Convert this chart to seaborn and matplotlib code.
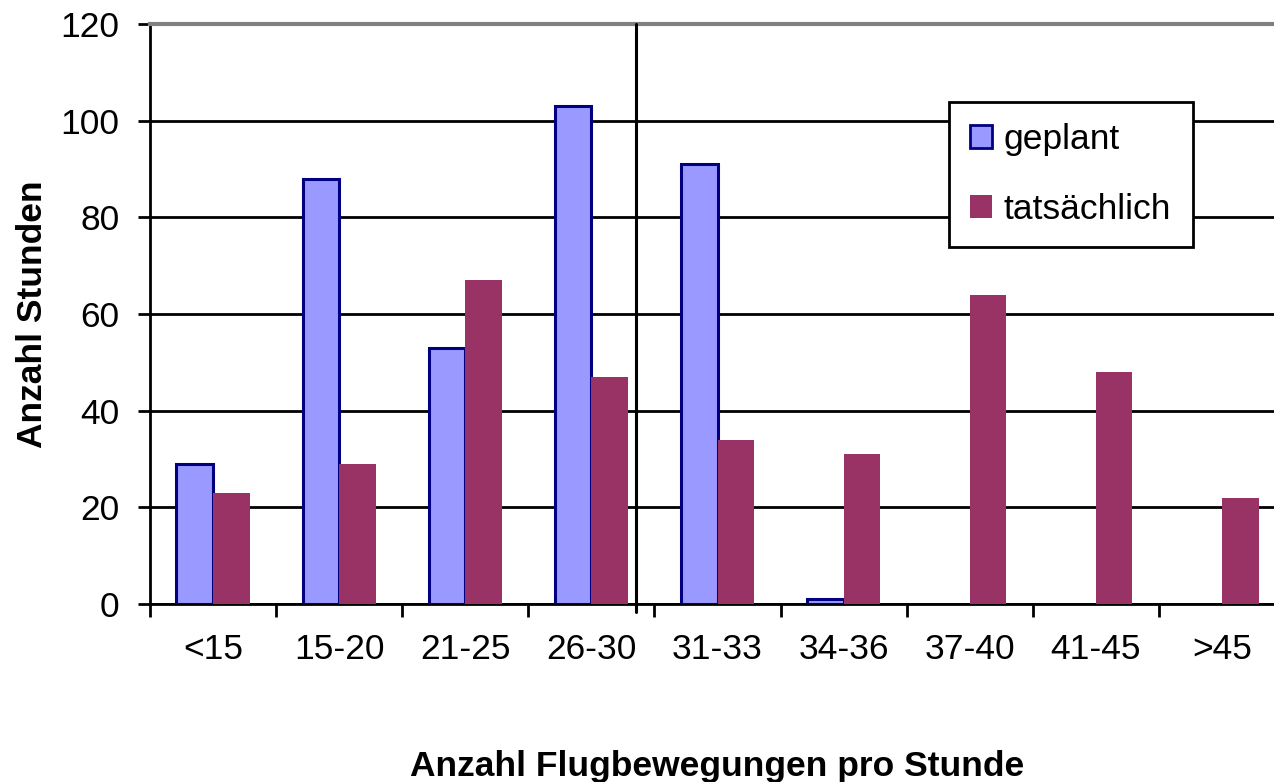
import pandas as pd
import matplotlib.pyplot as plt
import seaborn as sns

# Daten
kategorien = ['<15', '15-20', '21-25', '26-30', '31-33', '34-36', '37-40', '41-45', '>45']
geplant = [29, 88, 53, 103, 91, 1, 0, 0, 0]
tatsaechlich = [23, 29, 67, 47, 34, 31, 64, 48, 22]
serien = ['geplant', 'tatsächlich']

df = pd.DataFrame({
    'Kategorie': kategorien * 2,
    'Stunden': geplant + tatsaechlich,
    'Serie': [serien[0]] * len(kategorien) + [serien[1]] * len(kategorien),
})

sns.set_theme(style='white')
plt.rcParams['font.family'] = ['Liberation Sans', 'DejaVu Sans']
plt.rcParams['text.color'] = 'black'
plt.rcParams['axes.labelcolor'] = 'black'
plt.rcParams['xtick.color'] = 'black'
plt.rcParams['ytick.color'] = 'black'

fs = 25.5

fig = plt.figure(figsize=(12.74, 7.82), dpi=100)
ax = fig.add_axes([0.1177, 0.2276, 0.891, 0.7417])

farben = {'geplant': '#9999FF', 'tatsächlich': '#993366'}
sns.barplot(data=df, x='Kategorie', y='Stunden', hue='Serie', palette=farben,
            width=0.58, gap=0, saturation=1, ax=ax, zorder=3)

# Rahmen der Balken wie in Excel
for cont, name in zip(ax.containers, serien):
    for p in cont:
        if name == 'geplant' and p.get_height() > 0:
            p.set_edgecolor('#000080')
            p.set_linewidth(2.2)
        else:
            p.set_linewidth(0)

ax.set_ylim(0, 120)
ax.set_xlim(-0.5, len(kategorien) - 0.5)
ax.set_yticks(range(0, 121, 20))
ax.yaxis.grid(True, color='black', linewidth=2)
ax.set_axisbelow(True)

# Trennlinie zwischen 26-30 und 31-33
trenn_x = 3.35
ax.plot([trenn_x, trenn_x], [-1.6, 120], color='black', linewidth=2.2, clip_on=False, zorder=4)

ax.set_xticks([i - 0.5 for i in range(len(kategorien) + 1)], minor=True)
ax.tick_params(axis='x', which='major', length=0, pad=21, labelsize=fs)
ax.tick_params(axis='x', which='minor', length=9, width=2, direction='out', bottom=True)
ax.tick_params(axis='y', length=9, width=2, direction='out', left=True, pad=13, labelsize=fs)

for s in ['left', 'bottom']:
    ax.spines[s].set_color('black')
    ax.spines[s].set_linewidth(2)
ax.spines['top'].set_color('#808080')
ax.spines['top'].set_linewidth(3)
ax.spines['right'].set_visible(False)

ax.set_xlabel('Anzahl Flugbewegungen pro Stunde', fontsize=fs, fontweight='bold', labelpad=60)
ax.set_ylabel('Anzahl Stunden', fontsize=fs, fontweight='bold', labelpad=8)

leg = ax.legend(loc='upper left', bbox_to_anchor=(0.704, 0.866), frameon=True, fancybox=False,
                edgecolor='black', framealpha=1, fontsize=fs, borderpad=0.6, labelspacing=1.05,
                handlelength=0.6, handleheight=0.6, handletextpad=0.35, borderaxespad=0)
leg.get_frame().set_linewidth(2)
leg.set_title(None)
h = leg.legend_handles
h[0].set_edgecolor('#000080')
h[0].set_linewidth(2)
h[1].set_linewidth(0)

fig.savefig('out.png', dpi=100)
